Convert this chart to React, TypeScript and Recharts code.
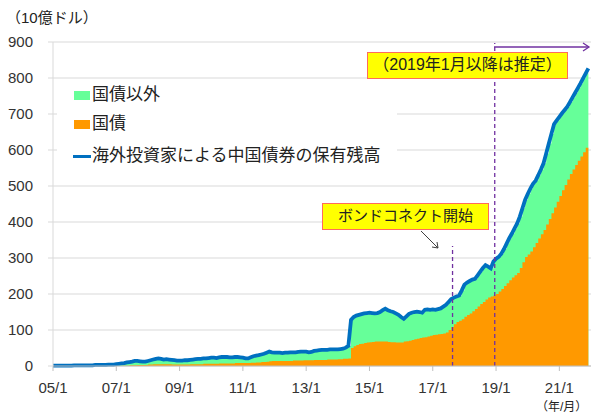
import React from 'react';
import {
  ComposedChart,
  Area,
  Line,
  XAxis,
  YAxis,
  CartesianGrid,
  ReferenceLine,
} from 'recharts';

// month index 0 = 2005/1, one value per month up to 2021/12
const tickMonths = [0, 24, 48, 72, 96, 120, 144, 168, 192];
const tickLabels = ['05/1', '07/1', '09/1', '11/1', '13/1', '15/1', '17/1', '19/1', '21/1'];
const yTicks = [0, 100, 200, 300, 400, 500, 600, 700, 800, 900];

// 海外投資家による中国債券の保有残高 (10億ドル)
const totalHoldings = [
  1, 1, 1, 1, 1, 1, 1, 1, 2, 2, 2, 2, // 2005
  2, 2, 2, 2, 3, 3, 3, 3, 3, 4, 4, 4, // 2006
  5, 6, 7, 8, 10, 11, 12, 14, 14, 13, 12, 12, // 2007
  14, 16, 18, 20, 21, 20, 18, 19, 18, 17, 16, 15, // 2008
  15, 15, 16, 16, 17, 18, 19, 20, 20, 21, 21, 22, // 2009
  23, 23, 22, 24, 25, 25, 25, 24, 24, 25, 25, 24, // 2010
  23, 21, 21, 24, 27, 29, 30, 32, 34, 37, 40, 38, // 2011
  37, 37, 37, 36, 37, 37, 38, 38, 38, 39, 40, 40, // 2012
  40, 38, 39, 42, 43, 44, 45, 45, 45, 46, 46, 46, // 2013
  46, 47, 48, 51, 56, 128, 136, 140, 142, 144, 146, 147, // 2014
  148, 147, 146, 147, 150, 155, 159, 155, 152, 150, 146, 142, // 2015
  136, 131, 138, 145, 148, 150, 151, 150, 148, 156, 157, 156, // 2016
  157, 156, 158, 160, 165, 170, 178, 186, 190, 193, 196, 210, // 2017
  226, 232, 236, 240, 242, 252, 262, 272, 280, 276, 271, 290, // 2018
  298, 303, 312, 325, 340, 355, 368, 382, 396, 415, 438, 461, // 2019
  478, 493, 506, 515, 530, 546, 563, 590, 618, 645, 672, 682, // 2020
  692, 702, 711, 720, 733, 746, 759, 772, 785, 799, 813, 827, // 2021
];

// 国債
const govtBonds = [
  0, 0, 0, 0, 0, 0, 0, 0, 0, 0, 0, 0, // 2005
  0, 0, 0, 0, 0, 0, 0, 0, 0, 0, 0, 0, // 2006
  0, 0, 1, 1, 1, 2, 2, 2, 3, 3, 3, 3, // 2007
  4, 4, 5, 5, 5, 5, 5, 5, 5, 4, 4, 4, // 2008
  4, 4, 4, 4, 5, 5, 5, 5, 5, 6, 6, 6, // 2009
  6, 6, 6, 7, 7, 7, 7, 7, 7, 8, 8, 8, // 2010
  8, 8, 8, 9, 9, 10, 10, 11, 11, 12, 13, 14, // 2011
  14, 14, 14, 14, 14, 14, 14, 15, 15, 15, 15, 16, // 2012
  16, 16, 16, 17, 17, 17, 17, 17, 18, 18, 18, 18, // 2013
  19, 19, 20, 20, 21, 50, 55, 58, 61, 62, 64, 65, // 2014
  66, 67, 68, 68, 68, 68, 68, 67, 66, 66, 65, 65, // 2015
  65, 68, 69, 70, 72, 74, 76, 78, 79, 80, 82, 84, // 2016
  86, 87, 88, 89, 90, 93, 100, 108, 116, 122, 126, 130, // 2017
  137, 142, 146, 152, 158, 165, 172, 178, 185, 190, 193, 196, // 2018
  200, 207, 214, 222, 230, 238, 246, 252, 258, 272, 288, 303, // 2019
  310, 318, 330, 342, 354, 366, 378, 393, 408, 424, 440, 456, // 2020
  472, 488, 503, 518, 533, 546, 558, 570, 582, 594, 606, 619, // 2021
];

const bondConnectMonth = 151.5;
const estimateFromMonth = 167.5;

const data = totalHoldings.map((v, i) => ({ m: i, total: v, govt: govtBonds[i] }));

const font = "'Liberation Sans', 'Noto Sans CJK JP', sans-serif";

const noteBox: React.CSSProperties = {
  position: 'absolute',
  height: 27,
  boxSizing: 'border-box',
  background: '#ffff00',
  border: '1.5px solid #ff6b5b',
  lineHeight: '24px',
  textAlign: 'center',
  whiteSpace: 'nowrap',
};

function App() {
  return (
    <div
      style={{
        position: 'relative',
        width: 591,
        height: 415,
        overflow: 'hidden',
        fontFamily: font,
        color: '#222',
      }}
    >
      <style>{'body { margin: 0; overflow: hidden; }'}</style>
      <ComposedChart
        width={591}
        height={415}
        data={data}
        margin={{ top: 42, right: 0, bottom: 19, left: 0 }}
      >
        <CartesianGrid vertical={false} stroke="#d9d9d9" />
        <XAxis
          type="number"
          dataKey="m"
          domain={[0, 204]}
          ticks={tickMonths}
          interval={0}
          tickFormatter={(v) => tickLabels[tickMonths.indexOf(v)]}
          tick={{ fill: '#333', fontSize: 15 }}
          tickLine={{ stroke: '#bfbfbf' }}
          axisLine={{ stroke: '#bfbfbf' }}
          tickSize={5}
          tickMargin={11}
          height={30}
        />
        <YAxis
          domain={[0, 900]}
          ticks={yTicks}
          interval={0}
          width={53}
          tick={{ fill: '#333', fontSize: 15 }}
          tickLine={{ stroke: '#d9d9d9' }}
          axisLine={{ stroke: '#d9d9d9' }}
          tickSize={5}
          tickMargin={15}
        />
        <Area
          dataKey="total"
          type="stepAfter"
          fill="#66ff99"
          fillOpacity={1}
          stroke="none"
          isAnimationActive={false}
        />
        <Area
          dataKey="govt"
          type="stepAfter"
          fill="#ff9900"
          fillOpacity={1}
          stroke="none"
          isAnimationActive={false}
        />
        <Line
          dataKey="total"
          type="linear"
          stroke="#0070c0"
          strokeWidth={3.8}
          dot={false}
          isAnimationActive={false}
        />
        <ReferenceLine
          segment={[{ x: estimateFromMonth, y: 0 }, { x: estimateFromMonth, y: 897 }]}
          stroke="#7030a0"
          strokeWidth={1.3}
          strokeDasharray="4 3"
        />
        <ReferenceLine
          segment={[{ x: bondConnectMonth, y: 0 }, { x: bondConnectMonth, y: 333 }]}
          stroke="#7030a0"
          strokeWidth={1.3}
          strokeDasharray="4 3"
        />
      </ComposedChart>

      <svg
        width={591}
        height={415}
        style={{ position: 'absolute', left: 0, top: 0, pointerEvents: 'none' }}
      >
        <line x1={494} y1={47} x2={589} y2={47} stroke="#7030a0" strokeWidth={1.3} />
        <polyline points="583,43 589,47 583,51" fill="none" stroke="#7030a0" strokeWidth={1.3} />
        <line x1={421} y1={231} x2={438} y2={248} stroke="#404040" strokeWidth={1} />
        <polyline points="432,247 438,248 437,242" fill="none" stroke="#404040" strokeWidth={1} />
      </svg>

      <div style={{ position: 'absolute', left: 6, top: 9, fontSize: 15, lineHeight: '18px' }}>
        （10億ドル）
      </div>

      <div
        style={{
          position: 'absolute',
          left: 57,
          top: 82,
          width: 340,
          height: 90,
          background: '#fff',
          fontSize: 17,
        }}
      >
        <div style={{ position: 'absolute', left: 17, top: 9, width: 16, height: 9, background: '#66ff99' }} />
        <div style={{ position: 'absolute', left: 35, top: 3, lineHeight: '20px' }}>国債以外</div>
        <div style={{ position: 'absolute', left: 17, top: 38, width: 16, height: 9, background: '#ff9900' }} />
        <div style={{ position: 'absolute', left: 35, top: 32, lineHeight: '20px' }}>国債</div>
        <div style={{ position: 'absolute', left: 16, top: 73, width: 18, height: 3, background: '#0070c0' }} />
        <div style={{ position: 'absolute', left: 35, top: 64, lineHeight: '20px' }}>
          海外投資家による中国債券の保有残高
        </div>
      </div>

      <div style={{ ...noteBox, left: 367, top: 52, width: 201, fontSize: 16 }}>
        （2019年1月以降は推定）
      </div>

      <div style={{ ...noteBox, left: 322, top: 203, width: 167, fontSize: 15 }}>
        ボンドコネクト開始
      </div>

      <div
        style={{
          position: 'absolute',
          left: 536,
          top: 400,
          fontSize: 12,
          lineHeight: '14px',
          whiteSpace: 'nowrap',
        }}
      >
        （年/月）
      </div>
    </div>
  );
}

export default App;
